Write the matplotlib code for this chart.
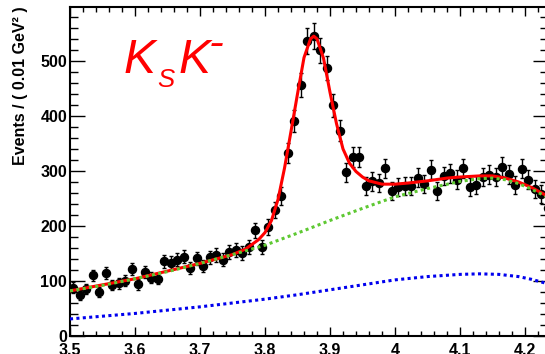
import numpy as np
import matplotlib
matplotlib.use("Agg")
import matplotlib.pyplot as plt
from matplotlib.ticker import MultipleLocator

# ---- data -------------------------------------------------------------
bin_start = 3.505
bin_width = 0.01
counts = [88, 75, 85, 110, 80, 114, 93, 96, 100, 122,
          94, 116, 106, 104, 136, 133, 139, 144, 124, 141,
          127, 143, 147, 139, 153, 156, 151, 161, 192, 162,
          198, 229, 254, 332, 391, 456, 536, 545, 519, 487,
          419, 373, 298, 326, 326, 273, 281, 278, 305, 264,
          270, 272, 273, 288, 276, 302, 264, 291, 296, 284,
          305, 270, 275, 289, 293, 289, 308, 294, 275, 304,
          284, 268, 258, 232]

total_x = [3.50, 3.60, 3.70, 3.75, 3.77, 3.79, 3.80, 3.81, 3.82, 3.83,
           3.84, 3.85, 3.86, 3.87, 3.875, 3.88, 3.89, 3.90, 3.91, 3.92,
           3.93, 3.94, 3.95, 3.96, 3.97, 3.98, 4.00, 4.02, 4.05, 4.08,
           4.10, 4.13, 4.15, 4.17, 4.19, 4.21, 4.235]
total_y = [82, 104, 132, 148, 158, 175, 188, 210, 248, 305,
           372, 440, 506, 540, 545, 540, 505, 443, 386, 340,
           314, 299, 289, 282, 279, 276, 276, 278, 282, 287,
           289, 291, 291, 287, 280, 270, 254]

bkg_x = [3.50, 3.55, 3.60, 3.65, 3.70, 3.75, 3.80, 3.85, 3.90, 3.95,
         4.00, 4.05, 4.10, 4.13, 4.15, 4.17, 4.19, 4.21, 4.235]
bkg_y = [82, 92, 104, 117, 132, 148, 165, 187, 210, 232,
         253, 268, 281, 286, 287, 284, 277, 267, 252]

comp_x = [3.50, 3.55, 3.60, 3.65, 3.70, 3.75, 3.80, 3.85, 3.90, 3.95,
          4.00, 4.05, 4.10, 4.13, 4.16, 4.19, 4.21, 4.235]
comp_y = [31, 36, 41, 47, 53, 60, 67, 75, 84, 93,
          102, 108, 112, 113, 112, 108, 103, 95]

x_ticks = [3.5, 3.6, 3.7, 3.8, 3.9, 4.0, 4.1, 4.2]
x_tick_labels = ["3.5", "3.6", "3.7", "3.8", "3.9", "4", "4.1", "4.2"]
y_ticks = [0, 100, 200, 300, 400, 500]

# ---- figure -------------------------------------------------------------
plt.rcParams['font.family'] = ['Liberation Sans', 'DejaVu Sans']

W, H = 545, 354
fig = plt.figure(figsize=(W / 100, H / 100), dpi=100)
x0, x1 = 3.5, 4.235
ppu = 650.0  # pixels per GeV^2
left_px, bottom_px, top_px = 70, 336, 7
ax = fig.add_axes([left_px / W, (H - bottom_px) / H,
                   (x1 - x0) * ppu / W, (bottom_px - top_px) / H])

bin_centers = bin_start + bin_width * np.arange(len(counts))
counts_arr = np.array(counts, dtype=float)
ax.errorbar(bin_centers, counts_arr, yerr=np.sqrt(counts_arr), fmt='o',
            color='black', markersize=5.8, elinewidth=1.0, capsize=1.6,
            capthick=1.0, zorder=3, clip_on=True)

ax.plot(total_x, total_y, color='#ff0000', lw=2.2, zorder=4)
ax.plot(bkg_x, bkg_y, color='#5ec832', lw=2.2, linestyle=(0, (1, 1.1)),
        dash_capstyle='butt', zorder=5)
ax.plot(comp_x, comp_y, color='#0000ee', lw=2.2, linestyle=(0, (1, 1.1)),
        dash_capstyle='butt', zorder=5)

ax.set_xlim(x0, x1)
ax.set_ylim(0, 598)

ax.set_xticks(x_ticks)
ax.set_xticklabels(x_tick_labels)
ax.set_yticks(y_ticks)
ax.xaxis.set_minor_locator(MultipleLocator(0.02))
ax.yaxis.set_minor_locator(MultipleLocator(20))

for lab in ax.get_xticklabels() + ax.get_yticklabels():
    lab.set_fontweight('bold')
    lab.set_fontsize(11.5)

ax.tick_params(axis='both', which='both', direction='in', top=True,
               right=True, width=1.0, colors='black')
ax.tick_params(axis='x', which='major', length=6.5, pad=5)
ax.tick_params(axis='x', which='minor', length=3.3)
ax.tick_params(axis='y', which='major', length=11, pad=2)
ax.tick_params(axis='y', which='minor', length=5.5)
for sp in ax.spines.values():
    sp.set_linewidth(1.5)

fig.text(21 / W, 1 - 6 / H, "Events / ( 0.01 GeV\u00b2 )", rotation=90,
         ha='center', va='top', fontsize=11.5, fontweight='bold')

# channel label
red = '#ff0000'
fig.text(124 / W, 1 - 73 / H, "K", color=red, fontsize=34.5,
         fontstyle='italic', ha='left', va='baseline')
fig.text(157 / W, 1 - 87 / H, "S", color=red, fontsize=18.5,
         fontstyle='italic', ha='left', va='baseline')
fig.text(179 / W, 1 - 73 / H, "K", color=red, fontsize=34.5,
         fontstyle='italic', ha='left', va='baseline')
fig.text(209 / W, 1 - 56 / H, "-", color=red, fontsize=32,
         fontstyle='italic', ha='left', va='baseline')

fig.savefig("out.png", dpi=100)
